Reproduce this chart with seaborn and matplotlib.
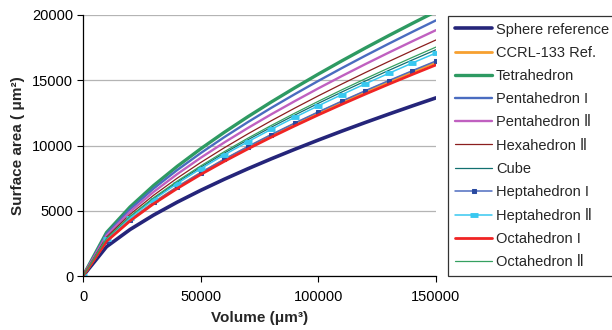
import matplotlib
matplotlib.use("Agg")
import matplotlib.pyplot as plt
import seaborn as sns
import pandas as pd

# --- data ---
volume = [0, 10000, 20000, 30000, 40000, 50000, 60000, 70000, 80000,
          90000, 100000, 110000, 120000, 130000, 140000, 150000]

sphere_ref = [0, 2245, 3563, 4669, 5656, 6563, 7412, 8214, 8979, 9711,
              10419, 11103, 11766, 12410, 13038, 13652]
ccrl_133 = [0, 2694, 4276, 5603, 6787, 7876, 8894, 9857, 10775, 11653,
            12503, 13324, 14119, 14892, 15646, 16382]
tetrahedron = [0, 3334, 5291, 6933, 8399, 9746, 11007, 12198, 13334, 14421,
               15472, 16488, 17473, 18429, 19361, 20273]
pentahedron_1 = [0, 3222, 5113, 6700, 8116, 9418, 10636, 11787, 12885, 13935,
                 14951, 15933, 16884, 17808, 18710, 19591]
pentahedron_2 = [0, 3098, 4917, 6443, 7805, 9057, 10229, 11335, 12391, 13401,
                 14378, 15322, 16237, 17126, 17992, 18840]
hexahedron_2 = [0, 2975, 4721, 6186, 7494, 8696, 9821, 10884, 11897, 12867,
                13805, 14711, 15590, 16443, 17275, 18089]
cube = [0, 2851, 4525, 5930, 7183, 8335, 9413, 10432, 11403, 12333,
        13232, 14101, 14943, 15761, 16558, 17338]
heptahedron_1 = [0, 2710, 4301, 5635, 6827, 7922, 8946, 9914, 10838, 11721,
                 12576, 13401, 14202, 14979, 15737, 16478]
heptahedron_2 = [0, 2811, 4461, 5846, 7081, 8217, 9280, 10284, 11242, 12158,
                 13045, 13901, 14731, 15537, 16324, 17092]
octahedron_1 = [0, 2660, 4222, 5533, 6702, 7777, 8783, 9734, 10640, 11508,
                12347, 13157, 13943, 14706, 15450, 16178]
octahedron_2 = [0, 2885, 4578, 6000, 7268, 8433, 9524, 10555, 11538, 12479,
                13388, 14267, 15119, 15947, 16754, 17543]

names = ["Sphere reference", "CCRL-133 Ref.", "Tetrahedron", "Pentahedron I",
         "Pentahedron Ⅱ", "Hexahedron Ⅱ", "Cube", "Heptahedron I",
         "Heptahedron Ⅱ", "Octahedron I", "Octahedron Ⅱ"]
series = [sphere_ref, ccrl_133, tetrahedron, pentahedron_1, pentahedron_2,
          hexahedron_2, cube, heptahedron_1, heptahedron_2, octahedron_1,
          octahedron_2]

# style per series: colour, line width, marker kwargs
styles = [
    ("#25257A", 2.6, {}),
    ("#F7A030", 2.0, {}),
    ("#2E9A62", 2.4, {}),
    ("#4A6CC0", 1.7, {}),
    ("#C060C0", 1.7, {}),
    ("#8B1E1E", 0.9, {}),
    ("#127070", 0.9, {}),
    ("#4E6CC0", 1.1, {"marker": "s", "markersize": 3, "markerfacecolor": "#2A4AA0",
                      "markeredgecolor": "#2A4AA0"}),
    ("#38C8F0", 1.1, {"marker": "_", "markersize": 6, "markeredgewidth": 3.5,
                      "markeredgecolor": "#38C8F0"}),
    ("#F02424", 2.0, {}),
    ("#35A060", 0.9, {}),
]

sns.set_style("white")
plt.rcParams["font.family"] = ["Liberation Sans", "DejaVu Sans"]

fig = plt.figure(figsize=(6.12, 3.3), dpi=100)
ax = fig.add_axes([83 / 612, 1 - 276 / 330, 353 / 612, 261 / 330])

for name, vals, (col, lw, mk) in zip(names, series, styles):
    df = pd.DataFrame({"volume": volume, "area": vals})
    sns.lineplot(data=df, x="volume", y="area", ax=ax, color=col,
                 linewidth=lw, label=name, **mk)

ax.set_xlim(0, 150000)
ax.set_ylim(0, 20000)
ax.set_xticks([0, 50000, 100000, 150000])
ax.set_yticks([0, 5000, 10000, 15000, 20000])
ax.yaxis.grid(True, color="#B4B4B4", linewidth=0.9)
ax.xaxis.grid(False)
ax.tick_params(axis="both", labelsize=10.5, length=4, width=0.8,
               direction="out", colors="black", pad=3)
ax.tick_params(axis="x", bottom=True, pad=6)
ax.tick_params(axis="y", left=True)
for side in ["top", "right"]:
    ax.spines[side].set_visible(False)
for side in ["left", "bottom"]:
    ax.spines[side].set_color("black")
    ax.spines[side].set_linewidth(0.9)

ax.set_xlabel("Volume (μm³)", fontsize=11, fontweight="bold", labelpad=5)
ax.set_ylabel("Surface area ( μm²)", fontsize=11, fontweight="bold", labelpad=5)

leg = ax.legend(loc="upper left", bbox_to_anchor=(448 / 612, 1 - 16 / 330),
                bbox_transform=fig.transFigure, fontsize=10.5, frameon=True,
                fancybox=False, edgecolor="black", borderaxespad=0,
                borderpad=0.45, labelspacing=0.63, handlelength=2.6,
                handletextpad=0.25)
leg.get_frame().set_linewidth(0.9)

fig.savefig("out.png", dpi=100)
